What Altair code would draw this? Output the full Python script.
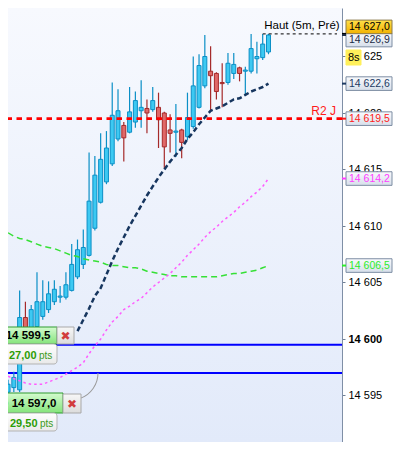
import altair as alt
import pandas as pd

# ---------------- data ----------------
opens = [14595.3, 14595.7, 14595.5, 14601.9, 14600.4, 14601.1, 14602.0, 14602.6, 14603.3, 14603.7,
         14603.7, 14604.3, 14605.5, 14606.6, 14607.4, 14609.8, 14612.1, 14613.9, 14615.5, 14617.7,
         14618.9, 14618.3, 14619.2, 14620.2, 14620.4, 14620.3, 14620.5, 14620.0, 14618.5, 14618.3,
         14618.5, 14617.9, 14618.8, 14620.5, 14622.4, 14623.7, 14623.5, 14622.7, 14622.7, 14623.5,
         14624.0, 14623.7, 14623.7, 14624.8, 14624.9, 14625.4]
highs = [14596.4, 14597.1, 14604.3, 14603.3, 14603.0, 14605.9, 14605.2, 14605.1, 14605.2, 14604.7,
         14605.9, 14608.4, 14608.8, 14609.7, 14616.5, 14616.2, 14618.2, 14618.4, 14622.7, 14622.1,
         14619.2, 14622.3, 14621.9, 14622.9, 14621.2, 14622.3, 14621.8, 14620.1, 14619.9, 14620.8,
         14618.6, 14621.8, 14625.0, 14625.2, 14626.9, 14625.9, 14623.6, 14624.4, 14625.3, 14625.3,
         14624.1, 14624.1, 14627.0, 14626.3, 14627.0, 14627.0]
lows = [14595.0, 14595.3, 14595.3, 14600.4, 14600.1, 14600.8, 14601.7, 14602.3, 14603.0, 14603.2,
        14603.5, 14604.2, 14605.3, 14606.2, 14607.3, 14609.6, 14612.0, 14613.7, 14615.3, 14617.5,
        14615.7, 14618.2, 14618.7, 14618.7, 14618.2, 14620.1, 14616.9, 14615.1, 14616.5, 14616.1,
        14616.0, 14617.6, 14618.6, 14620.4, 14622.2, 14620.1, 14621.2, 14620.5, 14622.5, 14623.0,
        14622.8, 14621.5, 14623.5, 14623.5, 14624.7, 14625.2]
closes = [14596.0, 14596.6, 14601.9, 14600.8, 14602.6, 14603.3, 14603.3, 14604.0, 14604.4, 14603.8,
          14604.8, 14606.6, 14607.9, 14608.1, 14612.2, 14614.5, 14615.9, 14616.9, 14619.8, 14620.2,
          14617.8, 14620.1, 14621.1, 14620.5, 14620.0, 14621.1, 14619.4, 14617.0, 14618.2, 14618.4,
          14617.4, 14619.6, 14622.4, 14624.2, 14625.0, 14623.3, 14621.9, 14622.6, 14624.4, 14624.3,
          14623.5, 14623.8, 14625.7, 14625.0, 14626.1, 14626.9]

ma_navy_start = 12
ma_navy = [14600.7, 14601.7, 14602.7, 14603.8, 14604.5, 14605.7, 14606.9, 14608.0, 14609.0, 14610.0,
           14610.9, 14611.8, 14612.7, 14613.5, 14614.3, 14615.0, 14615.7, 14616.3, 14616.9, 14617.7,
           14618.3, 14619.0, 14619.6, 14620.2, 14620.4, 14620.6, 14620.9, 14621.2, 14621.3, 14621.6,
           14621.9, 14622.1, 14622.3, 14622.6]
ma_pink = [14596.7, 14596.5, 14596.3, 14596.1, 14596.0, 14596.0, 14596.0, 14596.2, 14596.4, 14596.6,
           14596.9, 14597.2, 14597.5, 14597.9, 14598.7, 14599.4, 14600.0, 14600.8, 14601.5, 14602.0,
           14602.6, 14602.9, 14603.3, 14603.6, 14604.1, 14604.6, 14605.0, 14605.4, 14605.8, 14606.3,
           14606.8, 14607.4, 14607.9, 14608.4, 14609.0, 14609.5, 14609.9, 14610.4, 14610.8, 14611.2,
           14611.7, 14612.1, 14612.6, 14613.0, 14613.5, 14614.2]
ma_green = [14609.4, 14609.1, 14608.9, 14608.8, 14608.6, 14608.4, 14608.2, 14608.1, 14608.0, 14607.8,
            14607.6, 14607.4, 14607.3, 14607.1, 14607.0, 14606.9, 14606.8, 14606.6, 14606.5, 14606.5,
            14606.4, 14606.3, 14606.3, 14606.2, 14606.0, 14605.9, 14605.8, 14605.7, 14605.6, 14605.6,
            14605.5, 14605.5, 14605.5, 14605.5, 14605.5, 14605.5, 14605.5, 14605.6, 14605.7, 14605.8,
            14605.8, 14605.9, 14606.0, 14606.1, 14606.3, 14606.5]

r2_level = 14619.5
r2_label = "R2 J"
high_level = 14627.0
high_label = "Haut (5m, Pré)"
high_start_index = 44
order_prices = [14599.5, 14597.0]
order_labels = ["@ 14 599,5", "@ 14 597,0"]
order_pts = ["27,00", "29,50"]

axis_ticks = [14595, 14600, 14605, 14610, 14615, 14620, 14625]
tag_prices = [14627.0, 14626.9, 14622.6, 14619.5, 14614.2, 14606.5]
tag_labels = ["14 627,0", "14 626,9", "14 622,6", "14 619,5", "14 614,2", "14 606,5"]
tag_colors = ["#000000", "#1b2b45", "#1d3a62", "#ff1a1a", "#ff3cff", "#2cec2c"]
tag_shift_px = [-7, 5, 0, 0, 0, 0]
timer_label = "8s"

# ---------------- layout ----------------
PX = 11.3                     # pixels per point
W, H = 334, 434
Y_TOP = 14630.0 - 8 / PX
Y_BOT = Y_TOP - H / PX
X0, STEP = 2.9, 5.966
X_MIN = (8 - X0) / STEP
X_MAX = (8 + W - X0) / STEP
FONT = "Liberation Sans"

YS = alt.Scale(domain=[Y_BOT, Y_TOP], nice=False, zero=False)
XS = alt.Scale(domain=[X_MIN, X_MAX], nice=False, zero=False)
Y_AXIS = alt.Axis(orient="right", values=axis_ticks, title=None, grid=False,
                  labelExpr="replace(format(datum.value, ','), ',', ' ')",
                  labelFont=FONT, labelFontSize=11, labelColor="#000000",
                  labelFontWeight={"condition": {"test": "datum.value === 14600", "value": "bold"}, "value": "normal"},
                  tickSize=3, tickColor="#6f7f95", domainColor="#7f8fa6", labelPadding=3,
                  labelAlign="left", labelBaseline="middle", labelOverlap=False, labelFlush=False)


def Y(f):
    return alt.Y(f, type="quantitative", scale=YS, axis=Y_AXIS)


def X(f):
    return alt.X(f, type="quantitative", scale=XS, axis=None)


def grad(c1, c2):
    return {"gradient": "linear", "x1": 0, "y1": 0, "x2": 0, "y2": 1,
            "stops": [{"offset": 0, "color": c1}, {"offset": 1, "color": c2}]}


dummy = pd.DataFrame({"d": [0]})


def box(x1, x2, y1, y2, fill, stroke, radius=0):
    return alt.Chart(dummy).mark_rect(fill=fill, stroke=stroke, strokeWidth=1, cornerRadius=radius).encode(
        x=alt.value(x1), x2=alt.value(x2), y=alt.value(y1), y2=alt.value(y2))


def label(text, x, y, font=FONT, **kw):
    return alt.Chart(dummy).mark_text(text=text, font=font, **kw).encode(x=alt.value(x), y=alt.value(y))


# ---------------- frames ----------------
n = len(opens)
cdf = pd.DataFrame({"i": list(range(n)), "open": opens, "high": highs, "low": lows, "close": closes})
cdf["dir"] = ["down" if c < o else "up" for o, c in zip(opens, closes)]

navy_df = pd.DataFrame({"i": list(range(ma_navy_start, ma_navy_start + len(ma_navy))), "v": ma_navy})
pink_df = pd.DataFrame({"i": list(range(len(ma_pink))), "v": ma_pink})
green_df = pd.DataFrame({"i": list(range(len(ma_green))), "v": ma_green})

tags = pd.DataFrame({"price": tag_prices, "label": tag_labels, "tc": tag_colors, "shift": tag_shift_px})
tags["center"] = tags["price"] - tags["shift"] / PX
tags["top"] = tags["center"] + 6.8 / PX
tags["bot"] = tags["center"] - 6.8 / PX

STROKE = alt.Scale(domain=["up", "down"], range=["#0b8fc6", "#a52a2a"])
FILL = alt.Scale(domain=["up", "down"], range=["#3dc9f2", "#e06868"])

layers = []
# plot background
layers.append(alt.Chart(dummy).mark_rect(fill=grad("#f7f9fe", "#e2eafa")).encode(
    x=alt.value(0), x2=alt.value(W), y=alt.value(0), y2=alt.value(H)))

# order lines
layers.append(alt.Chart(pd.DataFrame({"price": order_prices})).mark_rule(color="#0000ff", strokeWidth=2).encode(
    y=Y("price")))

# candles
layers.append(alt.Chart(cdf).mark_rule(strokeWidth=1.2, clip=True).encode(
    x=X("i"), y=Y("low"), y2="high", stroke=alt.Stroke("dir:N", scale=STROKE, legend=None)))
layers.append(alt.Chart(cdf).mark_bar(width=4, strokeWidth=1, clip=True).encode(
    x=X("i"), y=Y("open"), y2="close",
    fill=alt.Fill("dir:N", scale=FILL, legend=None),
    stroke=alt.Stroke("dir:N", scale=STROKE, legend=None)))

# moving averages
layers.append(alt.Chart(green_df).mark_line(color="#36e036", strokeWidth=1.5, strokeDash=[6, 4], clip=True).encode(
    x=X("i"), y=Y("v")))
layers.append(alt.Chart(pink_df).mark_line(color="#ff5cff", strokeWidth=1.5, strokeDash=[2.5, 3], clip=True).encode(
    x=X("i"), y=Y("v")))
layers.append(alt.Chart(navy_df).mark_line(color="#17365f", strokeWidth=2.5, strokeDash=[5, 3], clip=True).encode(
    x=X("i"), y=Y("v")))

# R2 level
r2_df = pd.DataFrame({"price": [r2_level], "label": [r2_label]})
layers.append(alt.Chart(r2_df).mark_rule(color="#ff0000", strokeWidth=2.8, strokeDash=[5.5, 4.5]).encode(
    y=Y("price")))
layers.append(alt.Chart(r2_df).mark_text(font=FONT, fontSize=12, color="#ff1a1a", align="right",
                                         baseline="bottom", dy=-1).encode(
    x=alt.value(328), y=Y("price"), text="label"))

# previous high
hi_df = pd.DataFrame({"price": [high_level], "start": [high_start_index], "end": [X_MAX], "label": [high_label]})
layers.append(alt.Chart(hi_df).mark_rule(color="#000000", strokeWidth=1, strokeDash=[3, 3]).encode(
    x=X("start"), x2="end", y=Y("price")))
layers.append(alt.Chart(hi_df).mark_text(font=FONT, fontSize=11.5, color="#000000", align="left",
                                         baseline="bottom", dx=1.5, dy=-3).encode(
    x=X("start"), y=Y("price"), text="label"))

# price tags on the axis
normal_tags = tags.iloc[1:]
first_tag = tags.iloc[:1]
layers.append(alt.Chart(normal_tags).mark_rect(fill=grad("#f9fafd", "#d7dfea"), stroke="#7d8da3", strokeWidth=1).encode(
    x=alt.value(338), x2=alt.value(384), y=Y("top"), y2="bot"))
layers.append(alt.Chart(first_tag).mark_rect(fill=grad("#ffe04a", "#f2b200"), stroke="#8c7a4a", strokeWidth=1).encode(
    x=alt.value(338), x2=alt.value(384), y=Y("top"), y2="bot"))
layers.append(alt.Chart(tags).mark_rule(strokeWidth=2).encode(
    x=alt.value(334), x2=alt.value(338), y=Y("price"), color=alt.Color("tc:N", scale=None)))
layers.append(alt.Chart(tags).mark_text(font=FONT, fontSize=10.5, align="left", baseline="middle").encode(
    x=alt.value(341), y=Y("center"), text="label", color=alt.Color("tc:N", scale=None)))
# timer
layers.append(box(338, 353, 42, 57, "#fff05a", "#fff05a"))
layers.append(label(timer_label, 340, 50, fontSize=11, align="left", baseline="middle", color="#000000"))

# order tags (bottom left)
green_fill = grad("#d4fbcf", "#84e47a")
pts_fill = grad("#ffffff", "#e9e9e9")
x_fill = grad("#f7f7f7", "#dcdcdc")
# order 1
layers.append(box(-12, 49, 319, 336, green_fill, "#2f9b2f"))
layers.append(box(49, 66, 319, 336, x_fill, "#a8a8a8"))
layers.append(box(-12, 49, 336, 356, pts_fill, "#b3b3b3", 3))
layers.append(label(order_labels[0], 42.5, 328, fontSize=11.5, fontWeight="bold", align="right",
                    baseline="middle", color="#000000"))
layers.append(label("✖", 57.5, 328, font="DejaVu Sans", fontSize=12, align="center", baseline="middle",
                    color="#d23c3c"))
layers.append(label(order_pts[0], 1, 351, fontSize=11, fontWeight="bold", align="left",
                    baseline="alphabetic", color="#2c9d05"))
layers.append(label("pts", 31, 351, fontSize=10, align="left", baseline="alphabetic", color="#3a9a1a"))
# order 2
layers.append(alt.Chart(dummy).mark_arc(radius=27.5, radius2=26.5, theta=1.5708, theta2=2.77,
                                        fill="#9a9a9a").encode(x=alt.value(63), y=alt.value(365)))
layers.append(box(-12, 55, 385, 405, green_fill, "#2f9b2f"))
layers.append(box(55, 73, 386, 405, x_fill, "#a8a8a8"))
layers.append(box(-12, 49, 405, 423, pts_fill, "#b3b3b3", 3))
layers.append(label(order_labels[1], 48.5, 395.5, fontSize=11.5, fontWeight="bold", align="right",
                    baseline="middle", color="#000000"))
layers.append(label("✖", 64, 395.5, font="DejaVu Sans", fontSize=12, align="center", baseline="middle",
                    color="#d23c3c"))
layers.append(label(order_pts[1], 2, 419, fontSize=11, fontWeight="bold", align="left",
                    baseline="alphabetic", color="#2c9d05"))
layers.append(label("pts", 32, 419, fontSize=10, align="left", baseline="alphabetic", color="#3a9a1a"))

chart = alt.layer(*layers).properties(
    width=W, height=H,
    autosize=alt.AutoSizeParams(type="none"),
    padding={"left": 0, "top": 0, "right": 51, "bottom": 0},
    background="#ffffff",
).configure_view(strokeWidth=0)

chart.save("out.html", embed_options={"renderer": "svg", "actions": False})
